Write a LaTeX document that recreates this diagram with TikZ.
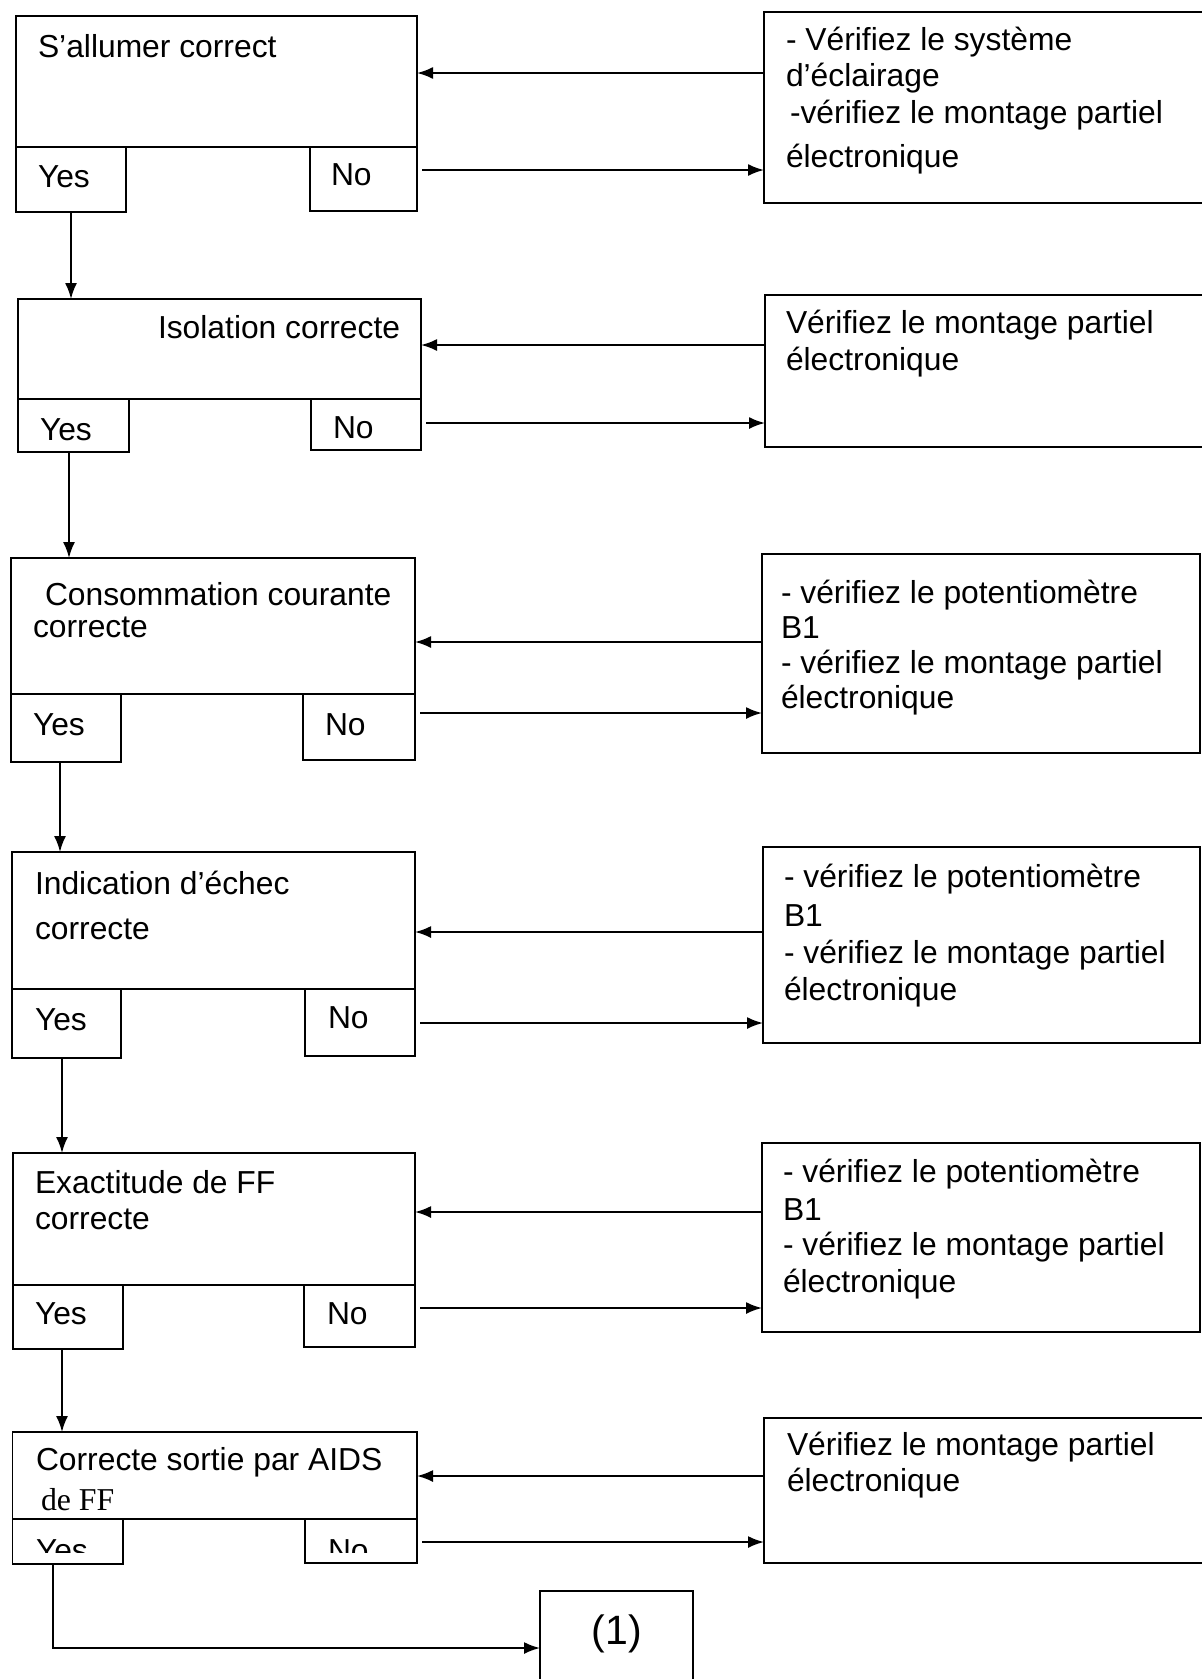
\documentclass[tikz,border=0pt]{standalone}
\usepackage{fontspec}
\setmainfont{Liberation Sans}
\newfontfamily\serifff{Liberation Serif}
\usetikzlibrary{arrows.meta}
\begin{document}
\begin{tikzpicture}[x=1pt,y=-1pt,
  box/.style={draw, line width=1.9pt, anchor=north west, inner sep=0pt, outer sep=0pt},
  lbl/.style={anchor=base west, inner sep=0pt, outer sep=0pt, font=\fontsize{31.8}{37}\selectfont},
  arr/.style={-{Latex[length=16pt,width=12pt]}, line width=1.9pt}]
\useasboundingbox[fill=white] (0,0) rectangle (1202,1679);

% ---------- left question boxes ----------
\node[box, minimum width=401pt, minimum height=131pt] (q1) at (16,16) {};
\node[box, minimum width=110pt, minimum height=65pt]  (y1) at (16,147) {};
\node[box, minimum width=107pt, minimum height=64pt]  (n1) at (310,147) {};

\node[box, minimum width=403pt, minimum height=100pt] (q2) at (18,299) {};
\node[box, minimum width=111pt, minimum height=53pt]  (y2) at (18,399) {};
\node[box, minimum width=110pt, minimum height=51pt]  (n2) at (311,399) {};

\node[box, minimum width=404pt, minimum height=136pt] (q3) at (11,558) {};
\node[box, minimum width=110pt, minimum height=68pt]  (y3) at (11,694) {};
\node[box, minimum width=112pt, minimum height=66pt]  (n3) at (303,694) {};

\node[box, minimum width=403pt, minimum height=137pt] (q4) at (12,852) {};
\node[box, minimum width=109pt, minimum height=69pt]  (y4) at (12,989) {};
\node[box, minimum width=110pt, minimum height=67pt]  (n4) at (305,989) {};

\node[box, minimum width=402pt, minimum height=132pt] (q5) at (13,1153) {};
\node[box, minimum width=110pt, minimum height=64pt]  (y5) at (13,1285) {};
\node[box, minimum width=111pt, minimum height=62pt]  (n5) at (304,1285) {};

\node[box, minimum width=404.5pt, minimum height=87pt] (q6) at (12.5,1432) {};
\node[box, minimum width=110.5pt, minimum height=45pt] (y6) at (12.5,1519) {};
\node[box, minimum width=112pt, minimum height=44pt]   (n6) at (305,1519) {};

% ---------- right action boxes ----------
\node[box, minimum width=440pt, minimum height=191pt] (r1) at (764,12) {};
\node[box, minimum width=439pt, minimum height=152pt] (r2) at (765,295) {};
\node[box, minimum width=438pt, minimum height=199pt] (r3) at (762,554) {};
\node[box, minimum width=437pt, minimum height=196pt] (r4) at (763,847) {};
\node[box, minimum width=438pt, minimum height=189pt] (r5) at (762,1143) {};
\node[box, minimum width=440pt, minimum height=145pt] (r6) at (764,1418) {};

% ---------- end box ----------
\node[box, minimum width=153pt, minimum height=95pt] (e1) at (540,1591) {};
\node[inner sep=0pt, font=\fontsize{41}{46}\selectfont] (e1t) at (617,1634) {(1)};

% ---------- texts in question boxes ----------
\node[lbl] (tq1) at (38,57) {S'allumer correct};
\node[lbl] (tq2) at (158,338) {Isolation correcte};
\node[lbl] (tq3a) at (45,605) {Consommation courante};
\node[lbl] (tq3b) at (33,637) {correcte};
\node[lbl] (tq4a) at (35,894) {Indication d'échec};
\node[lbl] (tq4b) at (35,939) {correcte};
\node[lbl] (tq5a) at (35,1193) {Exactitude de FF};
\node[lbl] (tq5b) at (35,1229) {correcte};
\node[lbl] (tq6a) at (36,1470) {Correcte sortie par AIDS};
\node[lbl, font=\serifff\fontsize{31.8}{37}\selectfont] (tq6b) at (41,1510) {de FF};

% ---------- Yes / No ----------
\node[lbl] (ty1) at (38,187) {Yes};
\node[lbl] (tn1) at (331,185) {No};
\node[lbl] (ty2) at (40,440) {Yes};
\node[lbl] (tn2) at (333,438) {No};
\node[lbl] (ty3) at (33,735) {Yes};
\node[lbl] (tn3) at (325,735) {No};
\node[lbl] (ty4) at (35,1030) {Yes};
\node[lbl] (tn4) at (328,1028) {No};
\node[lbl] (ty5) at (35,1324) {Yes};
\node[lbl] (tn5) at (327,1324) {No};
\begin{scope}
  \clip (0,1519) rectangle (700,1552);
  \node[lbl] (ty6) at (36,1561) {Yes};
  \node[lbl] (tn6) at (328,1561) {No};
\end{scope}

% ---------- texts in action boxes ----------
\node[lbl] (tr1a) at (786,50)  {- Vérifiez le système};
\node[lbl] (tr1b) at (786,86)  {d'éclairage};
\node[lbl] (tr1c) at (790,123) {-vérifiez le montage partiel};
\node[lbl] (tr1d) at (786,167) {électronique};

\node[lbl] (tr2a) at (786,333) {Vérifiez le montage partiel};
\node[lbl] (tr2b) at (786,370) {électronique};

\node[lbl] (tr3a) at (781,603) {- vérifiez le potentiomètre};
\node[lbl] (tr3b) at (781,638) {B1};
\node[lbl] (tr3c) at (781,673) {- vérifiez le montage partiel};
\node[lbl] (tr3d) at (781,708) {électronique};

\node[lbl] (tr4a) at (784,887)  {- vérifiez le potentiomètre};
\node[lbl] (tr4b) at (784,926)  {B1};
\node[lbl] (tr4c) at (784,963)  {- vérifiez le montage partiel};
\node[lbl] (tr4d) at (784,1000) {électronique};

\node[lbl] (tr5a) at (783,1182) {- vérifiez le potentiomètre};
\node[lbl] (tr5b) at (783,1220) {B1};
\node[lbl] (tr5c) at (783,1255) {- vérifiez le montage partiel};
\node[lbl] (tr5d) at (783,1292) {électronique};

\node[lbl] (tr6a) at (787,1455) {Vérifiez le montage partiel};
\node[lbl] (tr6b) at (787,1491) {électronique};

% ---------- horizontal connectors ----------
\draw[arr] (r1.west |- 0,73)   -- (q1.east |- 0,73);
\draw[arr, shorten <=5pt] (n1.east |- 0,170)  -- (r1.west |- 0,170);
\draw[arr] (r2.west |- 0,345)  -- (q2.east |- 0,345);
\draw[arr, shorten <=5pt] (n2.east |- 0,423)  -- (r2.west |- 0,423);
\draw[arr] (r3.west |- 0,642)  -- (q3.east |- 0,642);
\draw[arr, shorten <=5pt] (n3.east |- 0,713)  -- (r3.west |- 0,713);
\draw[arr] (r4.west |- 0,932)  -- (q4.east |- 0,932);
\draw[arr, shorten <=5pt] (n4.east |- 0,1023) -- (r4.west |- 0,1023);
\draw[arr] (r5.west |- 0,1212) -- (q5.east |- 0,1212);
\draw[arr, shorten <=5pt] (n5.east |- 0,1308) -- (r5.west |- 0,1308);
\draw[arr] (r6.west |- 0,1476) -- (q6.east |- 0,1476);
\draw[arr, shorten <=5pt] (n6.east |- 0,1542) -- (r6.west |- 0,1542);

% ---------- vertical connectors ----------
\draw[arr] (y1.south -| 71,0) -- (q2.north -| 71,0);
\draw[arr] (y2.south -| 69,0) -- (q3.north -| 69,0);
\draw[arr] (y3.south -| 60,0) -- (q4.north -| 60,0);
\draw[arr] (y4.south -| 62,0) -- (q5.north -| 62,0);
\draw[arr] (y5.south -| 62,0) -- (q6.north -| 62,0);
\draw[arr] (y6.south -| 53,0) |- (e1.west |- 0,1648);
\end{tikzpicture}
\end{document}
